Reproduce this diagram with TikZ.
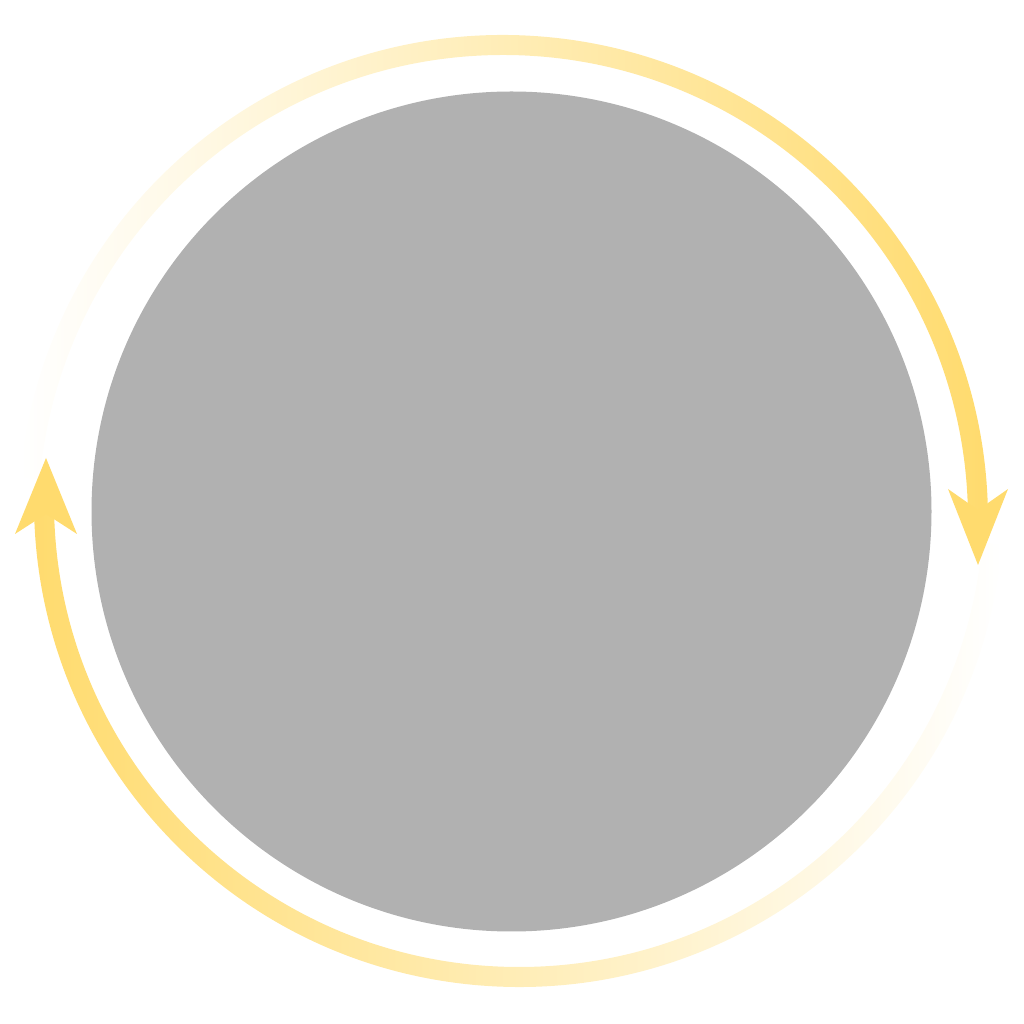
\documentclass[tikz,border=0pt]{standalone}
\usepackage{tikz}

\definecolor{disc}{HTML}{B1B1B1}
\definecolor{arcyellow}{HTML}{FFDB6E}

\begin{document}
\begin{tikzpicture}[x=0.01cm, y=0.01cm]
\tikzstyle{head} = [fill=arcyellow, draw=none]
\tikzstyle{fadeup} = [draw=none, left color=white, middle color=arcyellow!45, right color=arcyellow]
\tikzstyle{fadedown} = [draw=none, left color=arcyellow, middle color=arcyellow!45, right color=white]

\useasboundingbox (0,0) rectangle (1024,1024);

\coordinate (mid) at (511.5,512.5);
\coordinate (ctop) at (503,504);
\coordinate (cbot) at (519,522);

% grey disc
\fill[disc] (mid) circle[radius=420];

% upper arc, fading in towards the right
\shade[fadeup] (ctop) ++(175:485) arc[start angle=175, end angle=1, radius=485]
   -- ([shift={(1:465)}]ctop) arc[start angle=1, end angle=175, radius=465] -- cycle;

% lower arc, fading out towards the right
\shade[fadedown] (cbot) ++(-5:485) arc[start angle=-5, end angle=-181, radius=485]
   -- ([shift={(-181:465)}]cbot) arc[start angle=-181, end angle=-5, radius=465] -- cycle;

% arrow heads on top
\fill[head] (978,459) -- (948,535) -- (978,514) -- (1008,535) -- cycle;
\fill[head] (46,566) -- (15,490) -- (46,510) -- (77,490) -- cycle;
\end{tikzpicture}
\end{document}
